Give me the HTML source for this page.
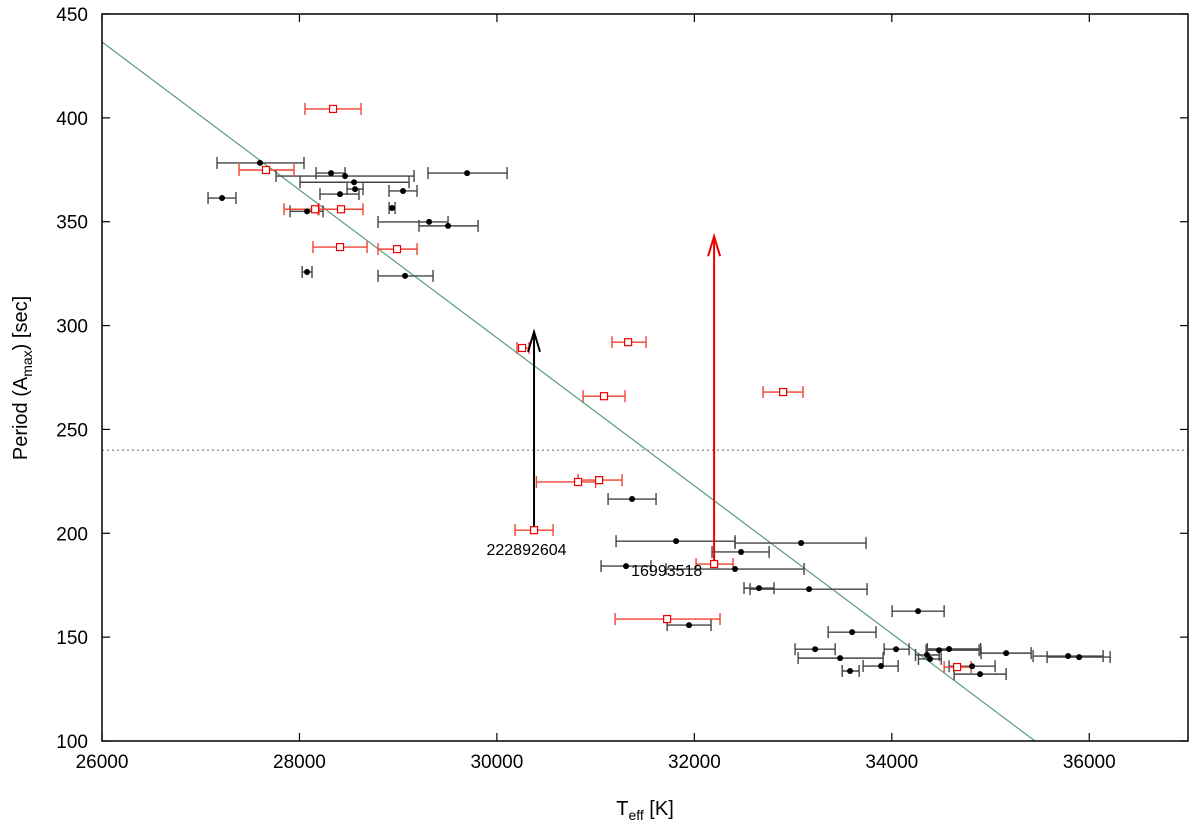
<!DOCTYPE html>
<html><head><meta charset="utf-8"><style>
html,body{margin:0;padding:0;background:#fff;width:1200px;height:827px;overflow:hidden}
svg text{font-family:"Liberation Sans",Arial,sans-serif}
</style></head><body>
<svg id="chart" width="1200" height="827" viewBox="0 0 1200 827" xmlns="http://www.w3.org/2000/svg">
<g id="marks"></g>
<rect x="102" y="14" width="1086" height="727" fill="none" stroke="#000" stroke-width="1.5"/>
<g id="axes"></g>
<text x="645" y="815" font-size="20" text-anchor="middle">T<tspan font-size="14" dy="5">eff</tspan><tspan dy="-5"> [K]</tspan></text>
<text transform="translate(27,378) rotate(-90)" font-size="20" text-anchor="middle">Period (A<tspan font-size="14" dy="5">max</tspan><tspan dy="-5">) [sec]</tspan></text>
</svg>
<script>
const xTicks=[26000,28000,30000,32000,34000,36000];
const yTicks=[100,150,200,250,300,350,400,450];
// black: teff, period, errLow, errHigh
const blackT=[27600,28320,28462,28553,28563,28411,29698,29049,27216,28077,28938,29313,29505,28077,29070,31369,31815,33081,32473,31308,32412,32655,33162,31946,34266,33598,33223,34043,33476,33577,33891,34479,34580,34357,34387,35158,35786,35897,34813,34894];
const blackP=[378.3,373.4,372,369,365.7,363.3,373.4,364.8,361.4,355,356.6,349.9,348,325.8,323.9,216.5,196.2,195.3,191,184.2,182.8,173.6,173.1,155.8,162.5,152.4,144.2,144.2,139.9,133.7,136.1,143.7,144.3,141.4,139.5,142.3,140.9,140.4,136,132.2];
const blackLo=[27165,28168,27763,28006,28482,28208,29302,28907,27074,27905,28908,28796,29211,28027,28796,31126,31207,32412,32179,31055,31713,32503,32564,31724,34003,33355,33020,33922,33051,33497,33709,34347,34360,34240,34270,34904,35431,35573,34580,34631];
const blackHi=[28046,28462,29161,29110,28644,28603,30103,29191,27357,28239,28968,29505,29809,28127,29353,31612,32412,33739,32757,31561,33111,32807,33749,32169,34530,33840,33426,34175,33912,33669,34064,34884,34900,34480,34500,35411,36140,36211,35046,35158];
const redT=[28340,27661,28158,28421,28411,28988,30255,31329,31085,32899,31035,30822,30376,32200,31724,34661];
const redP=[404.3,374.9,356,356,337.8,336.8,289.2,292,266,268,225.6,224.7,201.5,185.2,158.7,135.6];
const redLo=[28056,27388,27844,28188,28137,28796,30204,31166,30873,32696,30822,30400,30184,32017,31197,34530];
const redHi=[28624,27945,28198,28644,28685,29191,30325,31511,31298,33101,31268,31000,30569,32392,32260,34803];
const arrowT=[30376,32200];
const arrowFrom=[201.5,185.2];
const arrowTo=[297,343];
const arrowColor=['#000','#e00'];
const labelText=['222892604','16993518'];
const labelT=[30300,31720];
const labelP=[189.5,179.5];
const fitT=[26000,35451];
const fitP=[436.5,100];
const thresholdP=240;

const X=t=>102+(t-26000)/11000*1086;
const Y=p=>741-(p-100)/350*727;
const NS='http://www.w3.org/2000/svg';
const marks=document.getElementById('marks'), axes=document.getElementById('axes');
function mk(tag,attrs,parent){const e=document.createElementNS(NS,tag);for(const k in attrs)e.setAttribute(k,attrs[k]);parent.appendChild(e);return e;}

xTicks.forEach(t=>{
  const x=X(t);
  const tk=mk('line',{x1:x,x2:x,y1:741,y2:733,stroke:'#000','stroke-width':1.2},axes);
  
  
  const tk2=mk('line',{x1:x,x2:x,y1:14,y2:22,stroke:'#000','stroke-width':1.2},axes);
  
  
  const tx=mk('text',{x:x,y:768,'font-size':19,'text-anchor':'middle'},axes);tx.textContent=t;
  
  
});
yTicks.forEach(p=>{
  const y=Y(p);
  const tk=mk('line',{x1:102,x2:110,y1:y,y2:y,stroke:'#000','stroke-width':1.2},axes);
  
  
  const tk2=mk('line',{x1:1188,x2:1180,y1:y,y2:y,stroke:'#000','stroke-width':1.2},axes);
  
  
  const tx=mk('text',{x:88,y:y+7,'font-size':19,'text-anchor':'end'},axes);tx.textContent=p;
  
  
});

const th=mk('line',{x1:102,x2:1188,y1:Y(thresholdP),y2:Y(thresholdP),stroke:'#777','stroke-width':1.2,'stroke-dasharray':'2,3'},marks);


const fit=mk('line',{x1:X(fitT[0]),y1:Y(fitP[0]),x2:X(fitT[1]),y2:Y(fitP[1]),stroke:'#5a9e78','stroke-width':1.2},marks);



function errbar(t,p,lo,hi,col,name){
  const g=mk('g',{stroke:col,'stroke-width':1.4},marks);
  
  
  const y=Y(p);
  mk('line',{x1:X(lo),x2:X(hi),y1:y,y2:y},g);
  mk('line',{x1:X(lo),x2:X(lo),y1:y-6,y2:y+6},g);
  mk('line',{x1:X(hi),x2:X(hi),y1:y-6,y2:y+6},g);
}
blackT.forEach((t,i)=>errbar(t,blackP[i],blackLo[i],blackHi[i],'#444','black-error-bar'));
redT.forEach((t,i)=>errbar(t,redP[i],redLo[i],redHi[i],'#e43','red-error-bar'));
arrowT.forEach((t,i)=>{
  const g=mk('g',{stroke:arrowColor[i],'stroke-width':2,fill:'none'},marks);
  
  
  const x=X(t),y1=Y(arrowFrom[i]),y2=Y(arrowTo[i]);
  mk('line',{x1:x,x2:x,y1:y1,y2:y2},g);
  mk('polyline',{points:`${x-6},${y2+20} ${x},${y2} ${x+6},${y2+20}`},g);
});
blackT.forEach((t,i)=>{
  const c=mk('circle',{cx:X(t),cy:Y(blackP[i]),r:3,fill:'#000'},marks);
  
  
});
redT.forEach((t,i)=>{
  const r=mk('rect',{x:X(t)-3.5,y:Y(redP[i])-3.5,width:7,height:7,fill:'#fff',stroke:'#e00','stroke-width':1.2},marks);
  
  
});
labelText.forEach((s,i)=>{
  const tx=mk('text',{x:X(labelT[i]),y:Y(labelP[i]),'font-size':16,'text-anchor':'middle'},marks);
  tx.textContent=s;
  
  
});
</script>
</body></html>
